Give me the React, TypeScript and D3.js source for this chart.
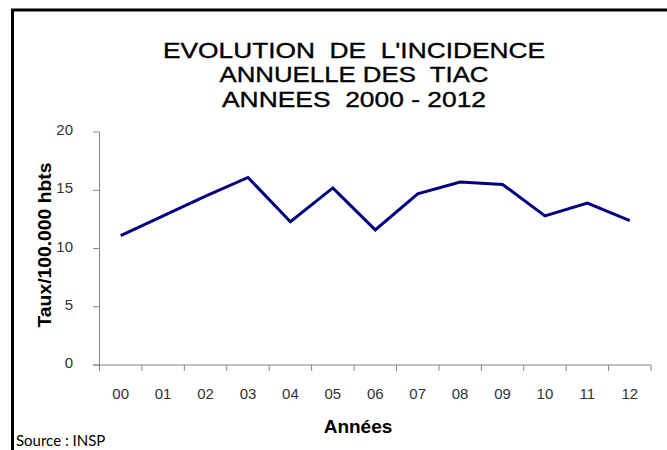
import React from "react";
import * as d3 from "d3";

const categories = ["00", "01", "02", "03", "04", "05", "06", "07", "08", "09", "10", "11", "12"];
const values = [11.1, 12.8, 14.5, 16.1, 12.3, 15.2, 11.6, 14.7, 15.7, 15.5, 12.8, 13.9, 12.4];
const yTicks = [0, 5, 10, 15, 20];
const titleLines = ["EVOLUTION  DE  L'INCIDENCE", "ANNUELLE DES  TIAC", "ANNEES  2000 - 2012"];
const titleWidths = [382, 269, 264];

export default function App() {
  const W = 667;
  const H = 450;
  const x = d3.scaleBand<string>().domain(categories).range([99.5, 651]);
  const y = d3.scaleLinear().domain([0, 20]).range([365, 132]);
  const line = d3
    .line<number>()
    .x((_, i) => (x(categories[i]) as number) + x.bandwidth() / 2)
    .y((d) => y(d));
  const axisColor = "#868686";
  const labelColor = "#333";
  const bounds = categories.map((c) => x(c) as number).concat([651]);

  return (
    <svg
      width={W}
      height={H}
      style={{ position: "absolute", left: 0, top: 0, background: "#fff" }}
      fontFamily="'Liberation Sans', Arial, sans-serif"
    >
      <rect x={0} y={0} width={W} height={H} fill="#fff" />
      {/* frame */}
      <path d={`M12.5,${H} L12.5,10 L${W},10`} fill="none" stroke="#000" strokeWidth={3} />

      {/* title */}
      {titleLines.map((t, i) => (
        <text
          key={i}
          x={354}
          y={57.5 + i * 24.7}
          textAnchor="middle"
          fontSize={22}
          fill="#000"
          stroke="#000"
          strokeWidth={0.35}
          style={{ whiteSpace: "pre" }}
          textLength={titleWidths[i]}
          lengthAdjust="spacingAndGlyphs"
        >
          {t}
        </text>
      ))}

      {/* y axis */}
      <line x1={99.5} x2={99.5} y1={y(20)} y2={y(0)} stroke={axisColor} strokeWidth={1} />
      {yTicks.map((t) => (
        <g key={t}>
          <line x1={93} x2={99.5} y1={y(t)} y2={y(t)} stroke={axisColor} strokeWidth={1} />
          <text
            x={73}
            y={y(t)}
            dy="0.2em"
            textAnchor="end"
            fontSize={15}
            fill={labelColor}
          >
            {t}
          </text>
        </g>
      ))}

      {/* x axis */}
      <line x1={93} x2={651} y1={y(0)} y2={y(0)} stroke={axisColor} strokeWidth={1} />
      {bounds.map((b, i) => (
        <line key={i} x1={b} x2={b} y1={y(0)} y2={y(0) + 6} stroke={axisColor} strokeWidth={1} />
      ))}
      {categories.map((c) => (
        <text
          key={c}
          x={(x(c) as number) + x.bandwidth() / 2}
          y={399}
          textAnchor="middle"
          fontSize={15}
          fill={labelColor}
        >
          {c}
        </text>
      ))}

      {/* line */}
      <path d={line(values) || ""} fill="none" stroke="#000080" strokeWidth={3} strokeLinejoin="miter" />

      {/* axis titles */}
      <text
        transform="translate(51,245) rotate(-90)"
        textAnchor="middle"
        fontSize={18}
        fontWeight="bold"
        fill="#000"
        textLength={165}
        lengthAdjust="spacingAndGlyphs"
      >
        Taux/100.000 hbts
      </text>
      <text x={358} y={433} textAnchor="middle" fontSize={19} fontWeight="bold" fill="#000">
        Années
      </text>

      {/* source */}
      <text x={16} y={446} fontSize={15} fill="#000" fontFamily="Lato, 'Liberation Sans', sans-serif">
        Source : INSP
      </text>
    </svg>
  );
}
